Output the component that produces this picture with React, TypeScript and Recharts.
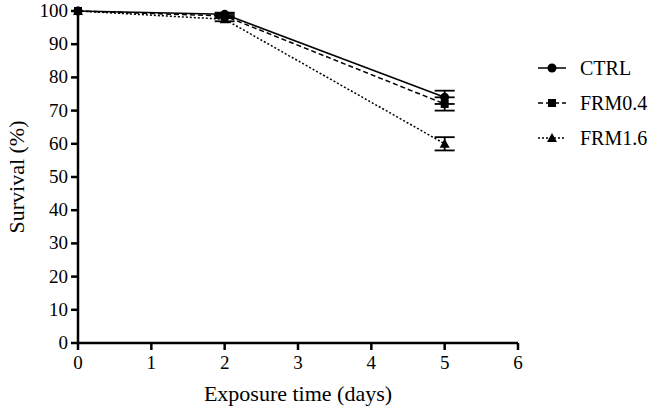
import React from "react";
import { LineChart, Line, XAxis, YAxis, ErrorBar, Label } from "recharts";

const days = [0, 2, 5];
const ctrl = [100, 99, 74];
const ctrlErr = [0, 0.5, 2];
const frm04 = [100, 98.5, 72];
const frm04Err = [0, 0.6, 2];
const frm16 = [100, 97.5, 60];
const frm16Err = [0, 0.6, 2];
const xTicks = [0, 1, 2, 3, 4, 5, 6];
const yTicks = [0, 10, 20, 30, 40, 50, 60, 70, 80, 90, 100];

const chartData = days.map((d, i) => ({
  day: d,
  ctrl: ctrl[i],
  ctrlErr: ctrlErr[i],
  frm04: frm04[i],
  frm04Err: frm04Err[i],
  frm16: frm16[i],
  frm16Err: frm16Err[i],
}));

const FONT = "'Liberation Serif', 'DejaVu Serif', 'Times New Roman', serif";
const txt = { fontFamily: FONT, fill: "#000" } as React.CSSProperties;

const series = [
  { key: "ctrl", err: "ctrlErr", name: "CTRL", dash: undefined, shape: "circle" },
  { key: "frm04", err: "frm04Err", name: "FRM0.4", dash: "5 3", shape: "square" },
  { key: "frm16", err: "frm16Err", name: "FRM1.6", dash: "2 2", shape: "triangle" },
];

function Marker({ shape, cx, cy }: { shape: string; cx: number; cy: number }) {
  if (shape === "circle") return <circle cx={cx} cy={cy} r={4.5} fill="#000" />;
  if (shape === "square")
    return <rect x={cx - 4} y={cy - 4} width={8} height={8} fill="#000" />;
  return (
    <polygon
      points={`${cx},${cy - 5} ${cx - 5},${cy + 4} ${cx + 5},${cy + 4}`}
      fill="#000"
    />
  );
}

function XTick({ x, y, payload }: any) {
  return (
    <text x={x} y={y + 17} textAnchor="middle" style={{ ...txt, fontSize: 19 }}>
      {payload.value}
    </text>
  );
}

function YTick({ x, y, payload }: any) {
  return (
    <text x={x - 1} y={y + 6} textAnchor="end" style={{ ...txt, fontSize: 19 }}>
      {payload.value}
    </text>
  );
}

function LegendBox() {
  return (
    <svg width={120} height={110}>
      {series.map((s, i) => {
        const y = 14 + i * 35;
        return (
          <g key={s.key}>
            <line
              x1={2}
              x2={30}
              y1={y}
              y2={y}
              stroke="#000"
              strokeWidth={1.5}
              strokeDasharray={s.dash}
            />
            <Marker shape={s.shape} cx={16} cy={y} />
            <text x={44} y={y + 7} style={{ ...txt, fontSize: 20 }}>
              {s.name}
            </text>
          </g>
        );
      })}
    </svg>
  );
}

export default function App() {
  return (
    <div
      style={{
        position: "absolute",
        left: 0,
        top: 0,
        width: 657,
        height: 416,
        background: "#fff",
      }}
    >
      <LineChart
        width={657}
        height={416}
        data={chartData}
        margin={{ top: 11, right: 139, bottom: 13, left: 0 }}
      >
        <XAxis
          dataKey="day"
          type="number"
          domain={[0, 6]}
          ticks={xTicks}
          height={60}
          stroke="#000"
          strokeWidth={2.5}
          tickSize={7}
          tick={<XTick />}
        >
          <Label
            value="Exposure time (days)"
            position="insideBottom"
            offset={2}
            style={{ ...txt, fontSize: 22 }}
          />
        </XAxis>
        <YAxis
          type="number"
          domain={[0, 100]}
          ticks={yTicks}
          width={78}
          stroke="#000"
          strokeWidth={2.5}
          tickSize={7}
          interval={0}
          tick={<YTick />}
        >
          <Label
            value="Survival (%)"
            angle={-90}
            position="insideLeft"
            offset={16}
            style={{ ...txt, fontSize: 22, textAnchor: "middle" }}
          />
        </YAxis>
        {series.map((s) => (
          <Line
            key={s.key}
            dataKey={s.key}
            name={s.name}
            stroke="#000"
            strokeWidth={1.5}
            strokeDasharray={s.dash}
            isAnimationActive={false}
            dot={(p: any) => (
              <Marker key={`${s.key}-${p.index}`} shape={s.shape} cx={p.cx} cy={p.cy} />
            )}
            activeDot={false}
          >
            <ErrorBar
              dataKey={s.err}
              direction="y"
              width={10}
              stroke="#000"
              strokeWidth={1.8}
            />
          </Line>
        ))}
      </LineChart>
      <div style={{ position: "absolute", left: 536, top: 54 }}>
        <LegendBox />
      </div>
    </div>
  );
}
